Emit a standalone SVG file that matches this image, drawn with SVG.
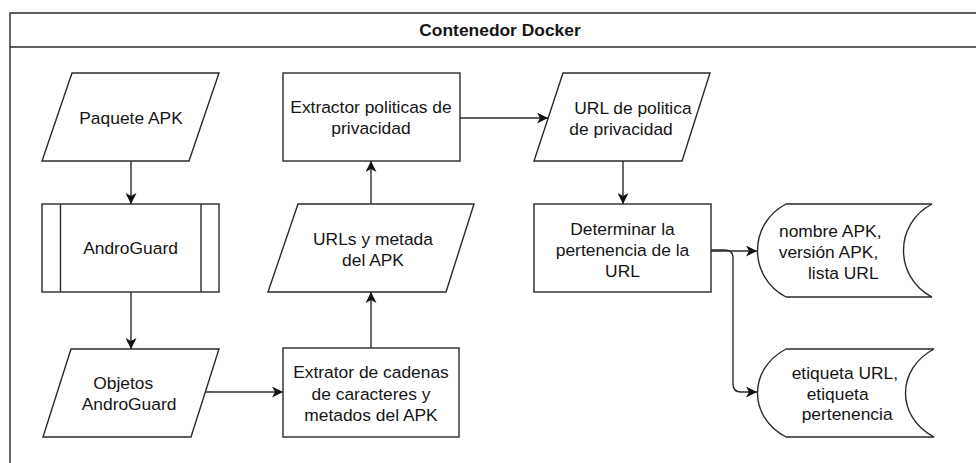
<svg xmlns="http://www.w3.org/2000/svg" width="976" height="463" viewBox="0 0 976 463">
<style>
.s{fill:#fff;stroke:#2a2a2a;stroke-width:1.4}
.t{font-family:"Liberation Sans",Arial,sans-serif;font-size:17.4px;fill:#151515}
.m{text-anchor:middle}
.e{fill:none;stroke:#2a2a2a;stroke-width:1.4}
</style>
<defs>
<marker id="ah" markerUnits="userSpaceOnUse" markerWidth="12" markerHeight="11" refX="11" refY="5.5" orient="auto">
<path d="M0,0 L11,5.5 L0,11 L3,5.5 Z" fill="#111"/>
</marker>
</defs>
<rect width="976" height="463" fill="#fff"/>
<g id="container">
<path class="s" d="M10,470 L10,13 L990,13 L990,470"/>
<line class="e" x1="10" y1="47" x2="990" y2="47"/>
<text class="t m" x="500" y="36" font-weight="bold">Contenedor Docker</text>
</g>
<g id="connectors">
<path class="e" d="M131,161 L131,204" marker-end="url(#ah)"/>
<path class="e" d="M131,292 L131,349" marker-end="url(#ah)"/>
<path class="e" d="M206,392 L283,392" marker-end="url(#ah)"/>
<path class="e" d="M371,348 L371,292" marker-end="url(#ah)"/>
<path class="e" d="M371,204 L371,161" marker-end="url(#ah)"/>
<path class="e" d="M460,118 L548,118" marker-end="url(#ah)"/>
<path class="e" d="M623,161 L623,204" marker-end="url(#ah)"/>
<path class="e" d="M711,251 L757,251" marker-end="url(#ah)"/>
<path class="e" d="M711,250 L725,250 Q733,250 733,258 L733,384 Q733,392 741,392 L757,392" marker-end="url(#ah)"/>
</g>
<g id="paquete">
<path class="s" d="M72,73 L219,73 L189,161 L42,161 Z"/>
<text class="t m" x="131" y="124">Paquete APK</text>
</g>
<g id="androguard">
<rect class="s" x="42" y="204" width="177" height="88"/>
<line class="e" x1="60.5" y1="204" x2="60.5" y2="292"/>
<line class="e" x1="201" y1="204" x2="201" y2="292"/>
<text class="t m" x="130.5" y="254">AndroGuard</text>
</g>
<g id="objetos">
<path class="s" d="M71,349 L219,349 L191,437 L43,437 Z"/>
<text class="t" x="93.3" y="389">Objetos</text>
<text class="t" x="81.7" y="409.5">AndroGuard</text>
</g>
<g id="extrator">
<rect class="s" x="283" y="348" width="176" height="89"/>
<text class="t m" x="371" y="378">Extrator de cadenas</text>
<text class="t m" x="371" y="399.5">de caracteres y</text>
<text class="t m" x="371" y="421">metados del APK</text>
</g>
<g id="urls">
<path class="s" d="M298,204 L474,204 L446,292 L268,292 Z"/>
<text class="t m" x="373" y="245">URLs y metada</text>
<text class="t m" x="373" y="266">del APK</text>
</g>
<g id="extractor-politicas">
<rect class="s" x="283" y="73" width="177" height="88"/>
<text class="t m" x="371" y="113">Extractor politicas de</text>
<text class="t m" x="371" y="134">privacidad</text>
</g>
<g id="url-politica">
<path class="s" d="M563,73 L710,73 L682,161 L534,161 Z"/>
<text class="t" x="574.3" y="113.5">URL de politica</text>
<text class="t" x="569.3" y="134.5">de privacidad</text>
</g>
<g id="determinar">
<rect class="s" x="534" y="204" width="177" height="88"/>
<text class="t m" x="622.5" y="234.5">Determinar la</text>
<text class="t m" x="622.5" y="256">pertenencia de la</text>
<text class="t m" x="622.5" y="277">URL</text>
</g>
<g id="nombre-apk">
<path class="s" d="M786,204 L932,204 C894,224 894,277 932,297 L786,297 C748,277 748,224 786,204 Z"/>
<text class="t" x="779" y="237">nombre APK,</text>
<text class="t" x="778.7" y="258">versión APK,</text>
<text class="t" x="808" y="279">lista URL</text>
</g>
<g id="etiqueta">
<path class="s" d="M786,349 L934,349 C896,369 896,417 934,437 L786,437 C748,417 748,369 786,349 Z"/>
<text class="t" x="791.7" y="379">etiqueta URL,</text>
<text class="t" x="806.7" y="399.5">etiqueta</text>
<text class="t" x="801.7" y="420">pertenencia</text>
</g>
</svg>
